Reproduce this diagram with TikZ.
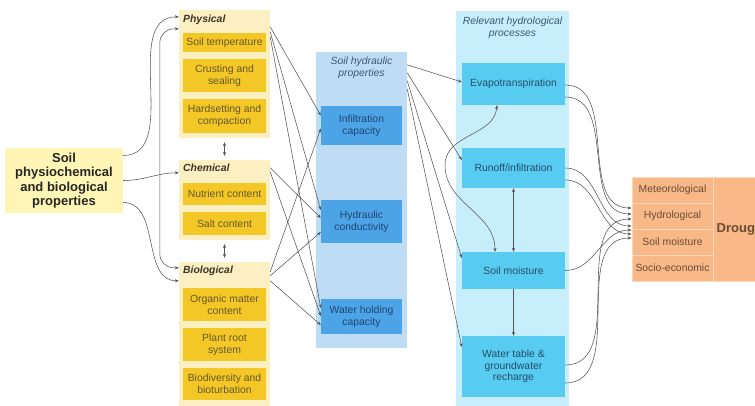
\documentclass[tikz,border=0pt]{standalone}
\usepackage{fontspec}
\setmainfont{Liberation Sans}
\usetikzlibrary{arrows.meta}

\definecolor{mainyel}{HTML}{FFF5B5}
\definecolor{grpyel}{HTML}{FCF0C2}
\definecolor{itemyel}{HTML}{F3C726}
\definecolor{txtyel}{HTML}{66572C}
\definecolor{grpblue}{HTML}{BEDDF4}
\definecolor{itemblue}{HTML}{4CA4E7}
\definecolor{txtblue}{HTML}{1F4670}
\definecolor{grpcyan}{HTML}{C7EEFB}
\definecolor{itemcyan}{HTML}{58CCF0}
\definecolor{txtcyan}{HTML}{264D69}
\definecolor{drought}{HTML}{F8B887}
\definecolor{droughtln}{HTML}{FCD8B8}
\definecolor{txtorange}{HTML}{6B4C35}
\definecolor{titlegray}{HTML}{3A3528}
\definecolor{titleblue}{HTML}{3D5A74}
\definecolor{linegray}{HTML}{555555}

\tikzset{
	basefont/.style={font=\fontsize{10.4}{11.7}\selectfont},
	mainbox/.style={fill=mainyel, text=black!85, minimum width=118pt, minimum height=65pt, inner sep=0pt, align=center, font=\fontsize{13}{14.3}\selectfont\bfseries},
	yelgrp/.style={fill=grpyel, minimum width=91pt, inner sep=0pt},
	yeltitle/.style={anchor=west, inner sep=0pt, text=titlegray, font=\fontsize{10.4}{11.7}\selectfont\bfseries\itshape},
	yelitem/.style={basefont, fill=itemyel, text=txtyel, minimum width=83pt, inner sep=0pt, align=center},
	bluegrp/.style={fill=grpblue, minimum width=91pt, inner sep=0pt},
	grptitle/.style={inner sep=0pt, align=center, text=titleblue, font=\fontsize{10.4}{12}\selectfont\itshape},
	blueitem/.style={basefont, fill=itemblue, text=txtblue, minimum width=81pt, inner sep=0pt, align=center},
	cyangrp/.style={fill=grpcyan, minimum width=113pt, inner sep=0pt},
	cyanitem/.style={basefont, fill=itemcyan, text=txtcyan, minimum width=103pt, inner sep=0pt, align=center},
	drcell/.style={basefont, fill=drought, draw=droughtln, line width=1pt, text=txtorange, minimum width=81pt, minimum height=26pt, inner sep=0pt},
	conn/.style={draw=linegray, line width=0.55pt, -{Stealth[length=4pt,width=3.2pt]}},
	conn2/.style={conn, {Stealth[length=4pt,width=3.2pt]}-{Stealth[length=4pt,width=3.2pt]}}
}

\begin{document}
\begin{tikzpicture}[x=1pt,y=-1pt]
	\useasboundingbox (0,0) rectangle (755,405);
	\clip (0,0) rectangle (755,405);

	\node[mainbox] (soil) at (64,180.5) {Soil\\physiochemical\\and biological\\properties};

	\node[yelgrp, minimum height=128pt] (phys) at (224.5,74) {};
	\node[yeltitle] (physt) at (183,20) {Physical};
	\node[yelitem, minimum height=19pt] (soiltemp) at (224.5,42.5) {Soil temperature};
	\node[yelitem, minimum height=33pt] (crust) at (224.5,75.5) {Crusting and\\sealing};
	\node[yelitem, minimum height=34pt] (hardset) at (224.5,116) {Hardsetting and\\compaction};

	\node[yelgrp, minimum height=80pt] (chem) at (224.5,200) {};
	\node[yeltitle] (chemt) at (183,168) {Chemical};
	\node[yelitem, minimum height=22pt] (nutrient) at (224.5,194) {Nutrient content};
	\node[yelitem, minimum height=23pt] (salt) at (224.5,223.5) {Salt content};

	\node[yelgrp, minimum height=145pt] (bio) at (224.5,334.5) {};
	\node[yeltitle] (biot) at (183,271) {Biological};
	\node[yelitem, minimum height=33pt] (organic) at (224.5,304.5) {Organic matter\\content};
	\node[yelitem, minimum height=33pt] (roots) at (224.5,344.5) {Plant root\\system};
	\node[yelitem, minimum height=32pt] (biodiv) at (224.5,384) {Biodiversity and\\bioturbation};

	\node[bluegrp, minimum height=296pt] (hgrp) at (361.5,200) {};
	\node[grptitle] (hgrpt) at (361.5,68) {Soil hydraulic\\properties};
	\node[blueitem, minimum height=39pt] (infil) at (361.5,125.5) {Infiltration\\capacity};
	\node[blueitem, minimum height=43pt] (hcond) at (361.5,221.5) {Hydraulic\\conductivity};
	\node[blueitem, minimum height=35pt] (whc) at (361.5,316.5) {Water holding\\capacity};

	\node[cyangrp, minimum height=395pt] (pgrp) at (512.5,208.5) {};
	\node[grptitle] (pgrpt) at (512.5,28) {Relevant hydrological\\processes};
	\node[cyanitem, minimum height=42pt] (evapo) at (513.5,84) {Evapotranspiration};
	\node[cyanitem, minimum height=40pt] (runoff) at (513.5,168) {Runoff/infiltration};
	\node[cyanitem, minimum height=37pt] (soilm) at (513.5,270.5) {Soil moisture};
	\node[cyanitem, minimum height=61pt] (wtable) at (513.5,366.5) {Water table \&\\groundwater\\recharge};

	\node[drcell] (meteo) at (672.5,190) {Meteorological};
	\node[drcell] (hydro) at (672.5,216) {Hydrological};
	\node[drcell] (smoist) at (672.5,242) {Soil moisture};
	\node[drcell] (socio) at (672.5,268) {Socio-economic};
	\node[drcell, minimum width=58pt, minimum height=104pt, font=\fontsize{13}{14}\selectfont\bfseries] (drt) at (742,229) {Drought};

	\draw[conn] ([yshift=25pt]soil.east) to[out=0,in=180] ([yshift=-7pt]phys.north west);
	\draw[conn] (soil.east) to[out=0,in=180] ([yshift=-13pt]chem.north west);
	\draw[conn] ([yshift=-22pt]soil.east) to[out=0,in=180] ([yshift=-19pt]bio.north west);
	\draw[conn2, rounded corners=14pt] ([yshift=-19pt]phys.north west) -- ++(-19,0) |- ([yshift=-6pt]bio.north west);
	\draw[conn2] ([yshift=-4pt]phys.south) -- ([yshift=4pt]chem.north);
	\draw[conn2] ([yshift=-4pt]chem.south) -- ([yshift=4pt]bio.north);

	\draw[conn] ([yshift=-17pt]phys.north east) -- ([yshift=10pt]infil.west);
	\draw[conn] ([yshift=-22pt]phys.north east) -- ([yshift=11.5pt]hcond.west);
	\draw[conn] ([yshift=-27pt]phys.north east) -- ([yshift=8.5pt]whc.west);
	\draw[conn] ([yshift=-8pt]chem.north east) -- ([yshift=3.5pt]hcond.west);
	\draw[conn] ([yshift=-12pt]chem.north east) -- ([yshift=0.5pt]whc.west);
	\draw[conn] ([yshift=-10pt]bio.north east) -- ([yshift=-3pt]infil.west);
	\draw[conn] ([yshift=-14pt]bio.north east) -- ([yshift=-10.5pt]hcond.west);
	\draw[conn] ([yshift=-19pt]bio.north east) -- ([yshift=-8.5pt]whc.west);

	\draw[conn] ([yshift=-13pt]hgrp.north east) -- ([yshift=2pt]evapo.west);
	\draw[conn] ([yshift=-21pt]hgrp.north east) -- ([yshift=8pt]runoff.west);
	\draw[conn] ([yshift=-29pt]hgrp.north east) -- ([yshift=12.5pt]soilm.west);
	\draw[conn] ([yshift=-37pt]hgrp.north east) -- ([yshift=19.5pt]wtable.west);

	\coordinate (etloop) at (445,165);
	\draw[conn2] ([xshift=-16.5pt]evapo.south) to[out=-95,in=90] (etloop) to[out=-90,in=90] ([xshift=-18.5pt]soilm.north);
	\draw[conn2] (runoff.south) -- (soilm.north);
	\draw[conn] (soilm.south) -- (wtable.north);

	\draw[conn] ([yshift=-1pt]evapo.east) to[out=0,in=180] ([yshift=8pt]hydro.west);
	\draw[conn] ([yshift=-13pt]evapo.east) to[out=0,in=180] ([yshift=2pt]hydro.west);
	\draw[conn] (runoff.east) to[out=0,in=180] ([yshift=-10pt]hydro.west);
	\draw[conn] ([yshift=-12pt]runoff.east) to[out=0,in=180] ([yshift=8pt]smoist.west);
	\draw[conn] (soilm.east) to[out=0,in=180] ([yshift=12pt]smoist.west);
	\draw[conn] ([yshift=1.5pt]wtable.east) to[out=0,in=180] ([yshift=-3pt]hydro.west);
	\draw[conn] ([yshift=-16.5pt]wtable.east) to[out=0,in=180] ([yshift=4pt]smoist.west);
\end{tikzpicture}
\end{document}
